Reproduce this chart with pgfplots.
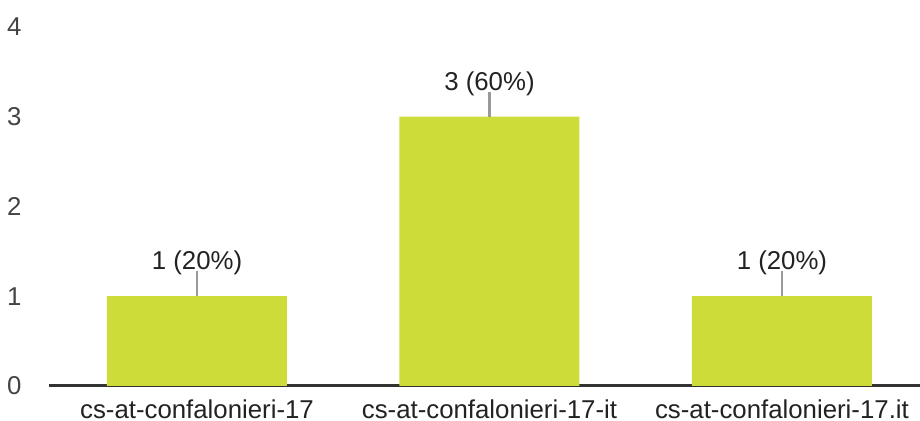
\documentclass[border=0pt]{standalone}
\usepackage{fontspec}
\setmainfont{Liberation Sans}
\usepackage{pgfplots}
\usepackage{pgfplotstable}
\pgfplotsset{compat=1.18}
\definecolor{barc}{HTML}{CDDC39}
\definecolor{leader}{HTML}{999999}
\definecolor{axisc}{HTML}{333333}
\definecolor{tickc}{HTML}{444444}
\definecolor{labc}{HTML}{222222}
\pgfplotstableread{
x y lab
0 1 {1 (20\%)}
1 3 {3 (60\%)}
2 1 {1 (20\%)}
}\datatable
\begin{document}
\begin{tikzpicture}
\useasboundingbox (0,0) rectangle (460pt,210.5pt);
\begin{axis}[
  at={(24.5pt,17.5pt)}, anchor=south west,
  scale only axis,
  width=435.5pt, height=179.5pt,
  xmin=-0.506, xmax=2.472,
  ymin=0, ymax=4,
  axis x line=bottom, axis y line=left,
  x axis line style={draw=axisc, line width=1.5pt, -},
  y axis line style={draw=none},
  major tick length=0pt,
  xtick={0,1,2},
  xticklabels={cs-at-confalonieri-17,cs-at-confalonieri-17-it,cs-at-confalonieri-17.it},
  ytick={0,1,2,3,4},
  /pgf/number format/assume math mode=true,
  tick label style={font=\fontsize{12.9}{14}\selectfont},
  yticklabel style={color=tickc, anchor=east, inner sep=0pt, xshift=-13.5pt},
  xticklabel style={color=labc, anchor=north, inner sep=0pt, yshift=-6.5pt},
  clip=false,
]
\addplot[ybar, bar width=90pt, fill=barc, draw=none] table[x=x, y=y] {\datatable};
\addplot[draw=none, mark=none,
  error bars/.cd, y dir=plus, y fixed=0.278,
  error bar style={draw=leader, line width=1.3pt}, error mark=none]
  table[x=x, y=y] {\datatable};
\addplot[draw=none, mark=none,
  nodes near coords, point meta=explicit symbolic,
  every node near coord/.style={anchor=south, inner sep=0pt, yshift=10.5pt,
    font=\fontsize{12.9}{14}\selectfont, color=labc}]
  table[x=x, y=y, meta=lab] {\datatable};
\end{axis}
\end{tikzpicture}
\end{document}
